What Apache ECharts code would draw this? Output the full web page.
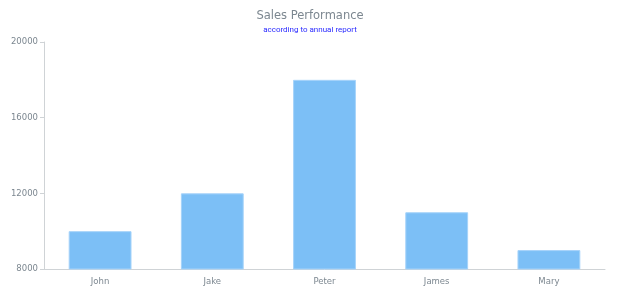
<!DOCTYPE html>
<html><head><meta charset="utf-8">
<script src="https://cdn.jsdelivr.net/npm/echarts@6/dist/echarts.min.js"></script>
<style>html,body{margin:0;padding:0;background:#fff}#c{width:620px;height:300px}</style>
</head><body><div id="c"></div>
<script>
const categories = ['John', 'Jake', 'Peter', 'James', 'Mary'];
const sales = [10000, 12000, 18000, 11000, 9000];
const yTicks = [8000, 12000, 16000, 20000];

const chart = echarts.init(document.getElementById('c'), null, {renderer: 'canvas'});
chart.setOption({
  animation: false,
  title: {
    text: 'Sales Performance',
    subtext: 'according to annual report',
    left: 'center', top: 5, itemGap: 4,
    textStyle: {fontFamily: 'DejaVu Sans', fontSize: 11.5, fontWeight: 'normal', color: '#7c8790'},
    subtextStyle: {fontFamily: 'Roboto', fontSize: 8, color: '#2a2aff'}
  },
  grid: {left: 44, right: 15, top: 42, bottom: 31},
  xAxis: {
    type: 'category', data: categories,
    axisLine: {lineStyle: {color: '#cfd3d6'}},
    axisTick: {length: 4, lineStyle: {color: '#cfd3d6'}},
    axisLabel: {fontFamily: 'DejaVu Sans', fontSize: 8.5, color: '#7c8790', margin: 8}
  },
  yAxis: {
    type: 'value', min: yTicks[0], max: yTicks[yTicks.length - 1], interval: 4000,
    axisLine: {show: true, lineStyle: {color: '#cfd3d6'}},
    axisTick: {show: true, length: 4, lineStyle: {color: '#cfd3d6'}},
    splitLine: {show: false},
    axisLabel: {fontFamily: 'DejaVu Sans', fontSize: 8.5, color: '#7c8790', margin: 6,
      formatter: function (v) { return String(v); }}
  },
  series: [{
    type: 'bar', data: sales, barWidth: '56%',
    itemStyle: {color: '#7cbff6', borderColor: '#a6d3fa', borderWidth: 1}
  }]
});
</script></body></html>
